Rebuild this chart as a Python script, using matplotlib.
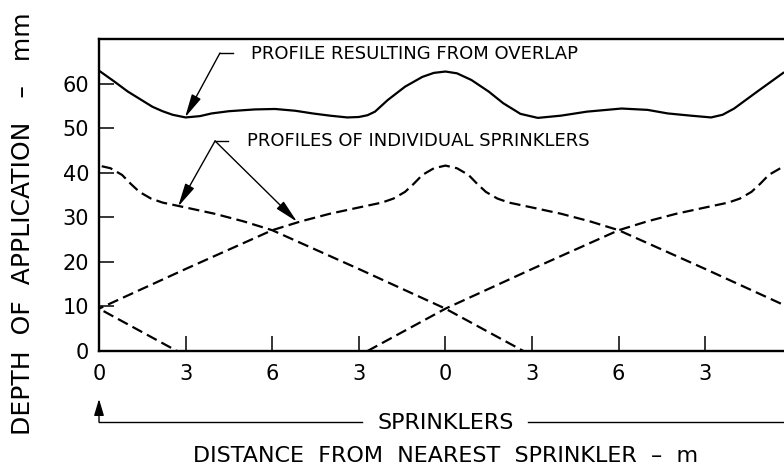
import matplotlib
matplotlib.use("Agg")
import matplotlib.pyplot as plt
import matplotlib.transforms as mtransforms
import numpy as np

plt.rcParams['font.family'] = ['DejaVu Sans']

# ---- data ----
overlap_x = [0, 0.5, 1.0, 1.5, 1.85, 2.2, 2.55, 3.0, 3.5, 3.9, 4.5, 5.4, 6.1, 6.8,
             7.4, 8.0, 8.6, 9.0, 9.3, 9.56, 10.0, 10.6, 11.2, 11.6, 12.0, 12.4,
             12.9, 13.5, 14.0, 14.6, 15.2, 16.0, 16.9, 18.1, 19.0, 19.7, 20.5,
             21.2, 21.6, 22.0, 22.8, 23.7]
overlap_depth = [62.9, 60.6, 58.2, 56.2, 54.8, 53.8, 53.0, 52.4, 52.7, 53.3, 53.8,
                 54.2, 54.3, 53.9, 53.3, 52.8, 52.4, 52.5, 52.9, 53.7, 56.3, 59.3,
                 61.5, 62.4, 62.7, 62.3, 60.8, 58.2, 55.6, 53.2, 52.3, 52.8, 53.7,
                 54.4, 54.1, 53.3, 52.8, 52.4, 53.0, 54.4, 58.2, 62.4]

profile_dist = np.array([0, 0.4, 0.8, 1.1, 1.4, 1.8, 2.2, 3.0, 4.0, 5.0, 6.0, 9.0,
                         12.0, 14.7])
profile_depth = np.array([41.6, 41.0, 39.5, 37.5, 35.7, 34.2, 33.3, 32.2, 30.8,
                          29.1, 27.1, 18.4, 9.5, 0.0])
sprinkler_pos = [-12, 0, 12, 24]

xtick_pos = [0, 3, 6, 9, 12, 15, 18, 21]
xtick_labels = ['0', '3', '6', '3', '0', '3', '6', '3']
ytick_vals = [0, 10, 20, 30, 40, 50, 60]

W, H = 784, 466
fig = plt.figure(figsize=(W / 100, H / 100), dpi=100)
px_per_m = 28.87
ax = fig.add_axes([99 / W, 115 / H, 24 * px_per_m / W, 312 / H])
ax.set_xlim(0, 24)
ax.set_ylim(0, 70)

ax.plot(overlap_x, overlap_depth, color='black', lw=1.6)
for s in sprinkler_pos:
    xs = np.concatenate([s - profile_dist[::-1], s + profile_dist[1:]])
    ys = np.concatenate([profile_depth[::-1], profile_depth[1:]])
    ax.plot(xs, ys, color='black', lw=1.6, ls=(0, (5, 2.4)))

ax.set_xticks(xtick_pos, xtick_labels)
ax.set_yticks(ytick_vals)
ax.tick_params(direction='in', length=11, width=1.1, labelsize=15,
               top=False, right=False)
ax.tick_params(axis='x', pad=9)
ax.tick_params(axis='y', pad=7)
for sp in ax.spines.values():
    sp.set_linewidth(1.7)
ax.spines['right'].set_visible(False)

# callouts
arrow_kw = dict(arrowstyle='-|>,head_length=1.3,head_width=0.28', color='black',
                lw=1.0, mutation_scale=11, shrinkA=0, shrinkB=0)
ax.plot([4.19, 4.64], [66.86, 66.86], color='black', lw=1.0)
ax.annotate('', xy=(2.98, 52.4), xytext=(4.19, 66.86), arrowprops=arrow_kw)
ax.text(5.27, 66.6, 'PROFILE RESULTING FROM OVERLAP', fontsize=13,
        ha='left', va='center')

ax.plot([4.02, 4.47], [47.12, 47.12], color='black', lw=1.0)
ax.annotate('', xy=(2.74, 32.4), xytext=(4.02, 47.12), arrowprops=arrow_kw)
ax.annotate('', xy=(6.86, 29.0), xytext=(4.02, 47.12), arrowprops=arrow_kw)
ax.text(5.13, 47.1, 'PROFILES OF INDIVIDUAL SPRINKLERS', fontsize=13,
        ha='left', va='center')

# sprinklers marker line below axis
trans = mtransforms.blended_transform_factory(ax.transData, fig.transFigure)
y_line = 1 - 422 / H
ax.annotate('', xy=(0, 1 - 399 / H), xytext=(0, y_line), xycoords=trans,
            textcoords=trans, annotation_clip=False,
            arrowprops=dict(arrowstyle='-|>,head_length=1.0,head_width=0.3',
                            color='black', lw=1.0, mutation_scale=10,
                            shrinkA=0, shrinkB=0))
ax.plot([0, 9.11], [y_line, y_line], transform=trans, clip_on=False,
        color='black', lw=1.0)
ax.plot([14.86, 25], [y_line, y_line], transform=trans, clip_on=False,
        color='black', lw=1.0)
fig.text(446 / W, 1 - 429 / H, 'SPRINKLERS', ha='center', va='baseline', fontsize=16)
fig.text(446 / W, 1 - 462 / H, 'DISTANCE  FROM  NEAREST  SPRINKLER  \u2013  m',
         ha='center', va='baseline', fontsize=16)
fig.text(23 / W, 1 - 224 / H, 'DEPTH  OF  APPLICATION   \u2013   mm', rotation=90,
         ha='center', va='center', fontsize=18)

fig.savefig('out.png', dpi=100)
